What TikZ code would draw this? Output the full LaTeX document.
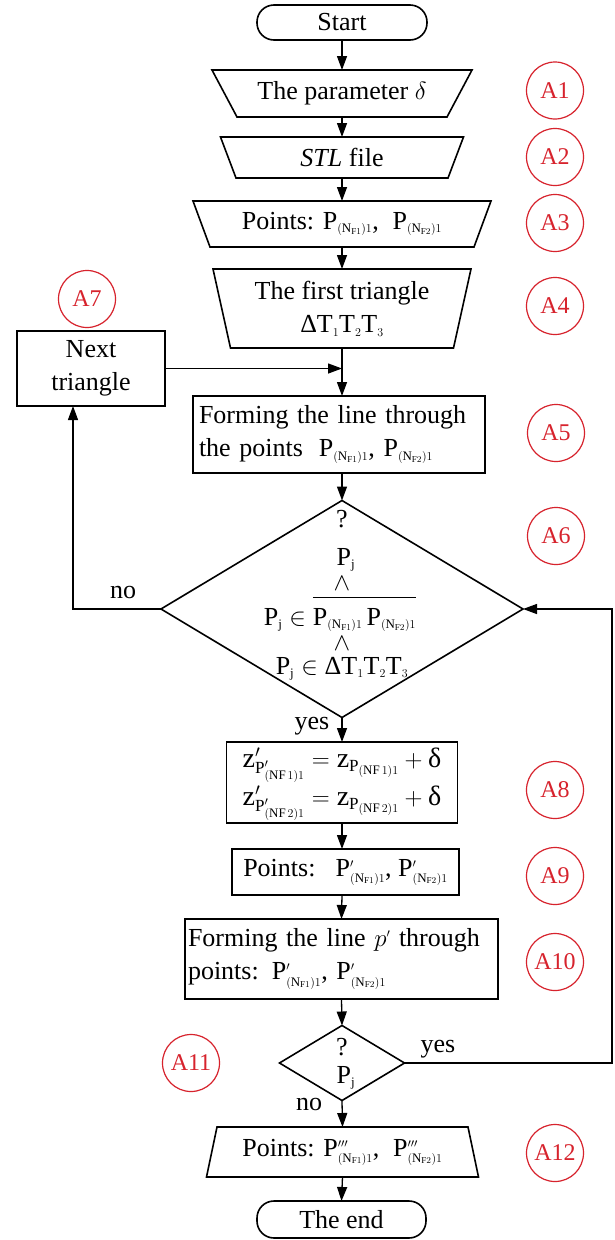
\documentclass[tikz,border=0pt]{standalone}
\usepackage{amsmath}
\usepackage{fontspec}
\setmainfont{Liberation Serif}
\usetikzlibrary{arrows.meta,shapes.geometric}
\DeclareMathSizes{26}{26}{13}{9}
\DeclareMathSizes{24}{24}{12}{9}
\DeclareMathSizes{28}{28}{17}{13}
\definecolor{tagred}{RGB}{215,35,45}
\newcommand{\PNF}[1]{\mathrm{P}_{(\mathrm{N}_{\mathrm{F}#1})1}}
\newcommand{\PpNF}[1]{\mathrm{P}'_{(\mathrm{N}_{\mathrm{F}#1})1}}
\newcommand{\PpppNF}[1]{\mathrm{P}'''_{(\mathrm{N}_{\mathrm{F}#1})1}}
\tikzset{
  base/.style={font=\fontsize{26}{33}\selectfont, inner sep=0pt, outer sep=0pt},
  box/.style={base, rectangle, draw, line width=1.6pt},
  term/.style={box, rounded corners=17pt},
  io/.style={base, rectangle},
  trap/.style={draw, line width=1.6pt, line join=miter},
  dec/.style={base, diamond, draw, line width=1.6pt},
  arr/.style={line width=1.3pt, -{Triangle[length=14pt,width=10pt]}},
  tag/.style={circle, draw=tagred, line width=1.2pt, minimum size=57pt, inner sep=0pt, text=tagred, font=\fontsize{24}{28}\selectfont},
  lbl/.style={base}
}
\begin{document}
\begin{tikzpicture}[x=1pt,y=-1pt]
\useasboundingbox[fill=white] (0,0) rectangle (615,1240);

% terminals and process blocks
\node[term, minimum width=170pt, minimum height=35pt] (start) at (342,22.5) {Start};

\node[io, minimum width=210pt, minimum height=47pt] (a1) at (342,93.5) {The parameter $\delta$};
\draw[trap] ([xshift=-25pt]a1.north west) -- ([xshift=25pt]a1.north east) -- (a1.south east) -- (a1.south west) -- cycle;

\node[io, minimum width=212pt, minimum height=41pt] (a2) at (342,157.5) {\textit{STL} file};
\draw[trap] ([xshift=-15.5pt]a2.north west) -- ([xshift=15.5pt]a2.north east) -- (a2.south east) -- (a2.south west) -- cycle;

\node[io, minimum width=264pt, minimum height=46pt] (a3) at (342,224) {Points: $\PNF{1}$,\; $\PNF{2}$};
\draw[trap] ([xshift=-17pt]a3.north west) -- ([xshift=17pt]a3.north east) -- (a3.south east) -- (a3.south west) -- cycle;

\node[io, minimum width=223pt, minimum height=79pt, align=center] (a4) at (342,308.5) {The first triangle\\Δ$\mathrm{T}_1\mathrm{T}_2\mathrm{T}_3$};
\draw[trap] ([xshift=-17.5pt]a4.north west) -- ([xshift=17.5pt]a4.north east) -- (a4.south east) -- (a4.south west) -- cycle;

\node[box, minimum width=148pt, minimum height=75pt, align=center] (next) at (91,368.5) {Next\\triangle};

\node[box, minimum width=292pt, minimum height=77pt, text width=280pt, align=left] (a5) at (339,434.5) {Forming the line through\\the points\; $\PNF{1}$, $\PNF{2}$};

% big decision
\node[dec, minimum width=362pt, minimum height=217pt] (d1) at (342,609) {};
\node[lbl, anchor=base] (d1q) at (342,527) {?};
\node[lbl, anchor=base] (d1p) at (346,565) {$\mathrm{P}_\mathrm{j}$};
\node[lbl] (d1w1) at (342,584) {$\wedge$};
\node[lbl, anchor=base] (d1l2) at (340,625) {$\mathrm{P}_\mathrm{j}\in\overline{\rule{0pt}{24pt}\PNF{1}\,\PNF{2}}$};
\node[lbl] (d1w2) at (342,644) {$\wedge$};
\node[lbl, anchor=base] (d1l3) at (342,674) {$\mathrm{P}_\mathrm{j}\in{}$Δ$\mathrm{T}_1\mathrm{T}_2\mathrm{T}_3$};

\node[box, minimum width=231pt, minimum height=81pt, font=\fontsize{28}{33}\selectfont] (a8) at (342,782.5) {$\begin{aligned}\mathrm{z}'_{\mathrm{P}'_{(\mathrm{NF}\,1)1}} &= \mathrm{z}_{\mathrm{P}_{(\mathrm{NF}\,1)1}} + \mbox{δ}\\[-4pt] \mathrm{z}'_{\mathrm{P}'_{(\mathrm{NF}\,2)1}} &= \mathrm{z}_{\mathrm{P}_{(\mathrm{NF}\,2)1}} + \mbox{δ}\end{aligned}$};

\node[box, minimum width=227pt, minimum height=46pt] (a9) at (345.5,872) {Points:\;\, $\PpNF{1}$, $\PpNF{2}$};

\node[box, minimum width=313pt, minimum height=80pt, text width=307pt, align=left] (a10) at (341.5,959) {Forming the line $p'$ through\\points: $\PpNF{1}$, $\PpNF{2}$};

% small decision
\node[dec, minimum width=125pt, minimum height=75pt] (d2) at (342,1063) {};
\node[lbl, anchor=base] (d2q) at (342,1055) {?};
\node[lbl, anchor=base] (d2p) at (346,1083) {$\mathrm{P}_\mathrm{j}$};

\node[io, minimum width=251pt, minimum height=50pt] (a12) at (342.5,1152) {Points: $\PpppNF{1}$,\; $\PpppNF{2}$};
\draw[trap] (a12.north west) -- (a12.north east) -- ([xshift=10.5pt]a12.south east) -- ([xshift=-10.5pt]a12.south west) -- cycle;

\node[term, minimum width=169pt, minimum height=37pt] (fin) at (341.5,1219.5) {The end};

% connector labels
\node[lbl, anchor=base] (yes1) at (312,729) {yes};
\node[lbl, anchor=base] (no1) at (123,598) {no};
\node[lbl, anchor=base] (yes2) at (438,1052) {yes};
\node[lbl, anchor=base] (no2) at (309,1110) {no};

% tags
\node[tag] (t1) at (555,90.5) {A1};
\node[tag] (t2) at (555,157) {A2};
\node[tag] (t3) at (555,223) {A3};
\node[tag] (t4) at (555,306) {A4};
\node[tag] (t5) at (556,433) {A5};
\node[tag] (t6) at (556,536) {A6};
\node[tag] (t7) at (87,299) {A7};
\node[tag] (t8) at (555,790) {A8};
\node[tag] (t9) at (555,876) {A9};
\node[tag] (t10) at (555,962) {A10};
\node[tag] (t11) at (191,1063) {A11};
\node[tag] (t12) at (555,1153) {A12};

% connectors
\draw[arr] (start.south) -- (a1.north);
\draw[arr] (a1.south) -- (a2.north);
\draw[arr] (a2.south) -- (a3.north);
\draw[arr] (a3.south) -- (a4.north);
\draw[arr] (a4.south) -- (a4.south |- a5.north);
\coordinate (jn) at (a4.south |- next.east);
\draw[arr] (next.east) -- (jn);
\draw[arr] (a4.south |- a5.south) -- (d1.north);
\coordinate (loopL) at (73,609);
\draw[arr] (d1.west) -- (loopL) -- (loopL |- next.south);
\draw[arr] (d1.south) -- (a8.north);
\draw[arr] (a8.south) -- (a8.south |- a9.north);
\draw[arr] (a8.south |- a9.south) -- (a10.north);
\draw[arr] (a10.south) -- (d2.north);
\draw[arr] (d2.south) -- (a12.north);
\draw[arr] (a12.south) -- (fin.north);
\coordinate (loopR) at (612,609);
\draw[arr] (d2.east) -| (loopR) -- (d1.east);
\end{tikzpicture}
\end{document}
